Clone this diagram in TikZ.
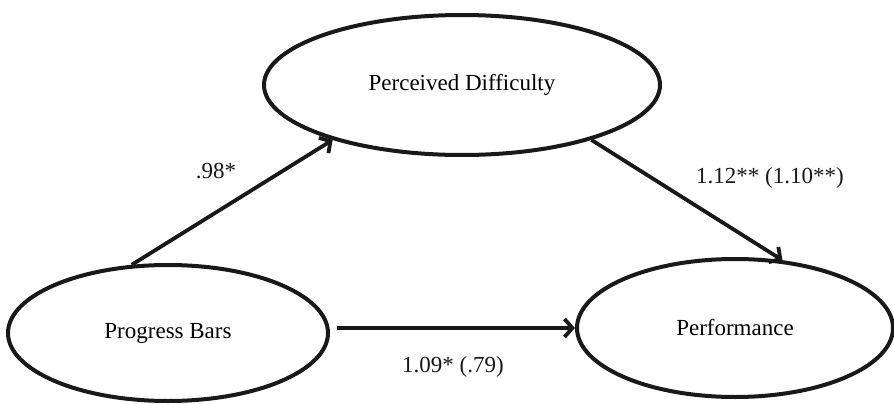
\documentclass[tikz,border=0pt]{standalone}
\usepackage{fontspec}
\setmainfont{Liberation Serif}
\usetikzlibrary{shapes.geometric,arrows.meta}
\begin{document}
\begin{tikzpicture}[x=1pt,y=-1pt,
  var/.style={draw=black!90,ellipse,line width=4pt,inner sep=0pt,
    font=\fontsize{23}{27}\selectfont},
  path/.style={draw=black!90,line width=3.8pt,
    -{Straight Barb[length=8pt,width=18pt,line width=3.8pt]}},
  coef/.style={font=\fontsize{23}{27}\selectfont,inner sep=0pt,text=black!90}]
\useasboundingbox (0,0) rectangle (894,404);
\node[var,minimum width=396pt,minimum height=140pt] (pd) at (462,85) {Perceived Difficulty};
\node[var,minimum width=320pt,minimum height=136pt] (pb) at (168,333) {\raisebox{-4pt}{Progress Bars}};
\node[var,minimum width=316pt,minimum height=138pt] (pf) at (735,328) {\raisebox{-2pt}{Performance}};
\draw[path] (pb.118) -- (pd.203);
\draw[path] (pd.337) -- (pf.55);
\draw[path] ([xshift=7pt]pb.east |- pf.west) -- (pf.west);
\node[coef,anchor=base] (c1) at (216,178) {.98*};
\node[coef,anchor=base] (c2) at (770,183) {1.12** (1.10**)};
\node[coef,anchor=base] (c3) at (453,372) {1.09* (.79)};
\end{tikzpicture}
\end{document}
